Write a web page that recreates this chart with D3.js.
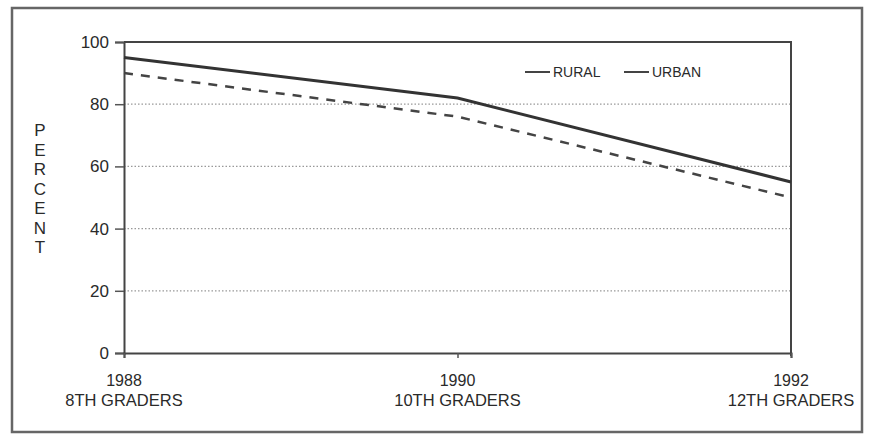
<!DOCTYPE html>
<html>
<head>
<meta charset="utf-8">
<script src="https://cdn.jsdelivr.net/npm/d3@7"></script>
<style>
  body { margin: 0; background: #fff; }
  text { font-family: "Liberation Sans", Arial, sans-serif; fill: #2a2a2a; }
</style>
</head>
<body>
<div id="chart"></div>
<script>
var years = ["1988", "1990", "1992"];
var grades = ["8TH GRADERS", "10TH GRADERS", "12TH GRADERS"];
var rural = [95, 82, 55];
var urban = [90, 76, 50];
var yTicks = [0, 20, 40, 60, 80, 100];

var width = 869, height = 434;
var margin = { top: 42, right: 78, bottom: 81, left: 124 };

var svg = d3.select("#chart")
  .append("svg")
  .attr("width", width)
  .attr("height", height);

// outer frame
svg.append("rect")
  .attr("x", 12).attr("y", 8)
  .attr("width", 850).attr("height", 424)
  .style("fill", "none")
  .style("stroke", "#666")
  .style("stroke-width", 2.5);

var x = d3.scalePoint()
  .domain(years)
  .range([margin.left, width - margin.right]);

var y = d3.scaleLinear()
  .domain([0, 100])
  .range([height - margin.bottom, margin.top]);

// dotted grid
svg.selectAll(".grid")
  .data(yTicks.filter(function (d) { return d > 0 && d < 100; }))
  .enter()
  .append("line")
  .attr("x1", margin.left).attr("x2", width - margin.right)
  .attr("y1", function (d) { return y(d); })
  .attr("y2", function (d) { return y(d); })
  .style("stroke", "#999")
  .style("stroke-width", 1.3)
  .style("stroke-dasharray", "1.5,2");

// plot box (top + right)
svg.append("path")
  .attr("d", "M" + margin.left + "," + y(100) + "H" + (width - margin.right) + "V" + (y(0) + 3))
  .style("fill", "none")
  .style("stroke", "#444")
  .style("stroke-width", 2);

// y axis
var yAxis = svg.append("g")
  .attr("transform", "translate(" + margin.left + ",0)")
  .call(d3.axisLeft(y).tickValues(yTicks).tickSize(9).tickPadding(6));
yAxis.select(".domain").style("stroke", "#444").style("stroke-width", 2);
yAxis.selectAll(".tick line").style("stroke", "#555").style("stroke-width", 1.5);
yAxis.selectAll(".tick text")
  .style("font-size", "17px")
  .style("fill", "#2a2a2a")
  .style("font-family", "'Liberation Sans', Arial, sans-serif");

// x axis
var xAxis = svg.append("g")
  .attr("transform", "translate(0," + y(0) + ")")
  .call(d3.axisBottom(x).tickSize(5).tickFormat(""));
xAxis.select(".domain").style("stroke", "#444").style("stroke-width", 2);
xAxis.selectAll(".tick line").style("stroke", "#555").style("stroke-width", 1.5);

// year labels and grade labels
svg.selectAll(".year")
  .data(years)
  .enter()
  .append("text")
  .attr("class", "year")
  .attr("text-anchor", "middle")
  .attr("x", function (d) { return x(d); })
  .attr("y", 386)
  .style("font-size", "16px")
  .text(function (d) { return d; });

svg.selectAll(".grade")
  .data(grades)
  .enter()
  .append("text")
  .attr("class", "grade")
  .attr("text-anchor", "middle")
  .attr("x", function (d, i) { return x(years[i]); })
  .attr("y", 406)
  .style("font-size", "16.5px")
  .text(function (d) { return d; });

// vertical PERCENT label
svg.selectAll(".pct")
  .data("PERCENT".split(""))
  .enter()
  .append("text")
  .attr("class", "pct")
  .attr("text-anchor", "middle")
  .attr("x", 40)
  .attr("y", function (d, i) { return 136 + i * 19.5; })
  .style("font-size", "17px")
  .text(function (d) { return d; });

var line = d3.line()
  .x(function (d, i) { return x(years[i]); })
  .y(function (d) { return y(d); });

svg.append("path")
  .datum(rural)
  .attr("d", line)
  .style("fill", "none")
  .style("stroke", "#333")
  .style("stroke-width", 3);

svg.append("path")
  .datum(urban)
  .attr("d", line)
  .style("fill", "none")
  .style("stroke", "#444")
  .style("stroke-width", 2.5)
  .style("stroke-dasharray", "9,8");

// legend
var legend = [
  { name: "RURAL", x: 525 },
  { name: "URBAN", x: 624 }
];
var lg = svg.selectAll(".legend")
  .data(legend)
  .enter()
  .append("g")
  .attr("transform", function (d) { return "translate(" + d.x + ",72)"; });
lg.append("line")
  .attr("x1", 0).attr("x2", 25)
  .style("stroke", "#444")
  .style("stroke-width", 2);
lg.append("text")
  .attr("x", 28)
  .attr("y", 5)
  .style("font-size", "14px")
  .text(function (d) { return d.name; });
</script>
</body>
</html>
